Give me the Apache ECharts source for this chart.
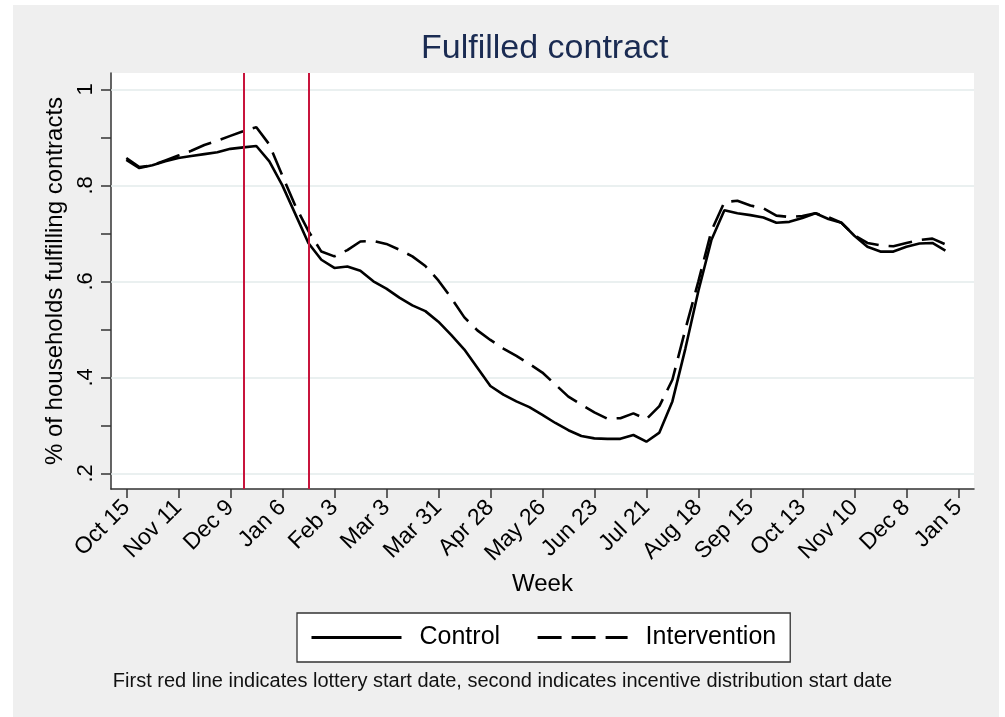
<!DOCTYPE html>
<html>
<head>
<meta charset="utf-8">
<script src="https://cdn.jsdelivr.net/npm/echarts@6/dist/echarts.min.js"></script>
<style>
  html, body { margin: 0; padding: 0; background: #fff; }
  #chart { width: 1005px; height: 717px; }
</style>
</head>
<body>
<div id="chart"></div>
<script>
// week labels every 4 weeks, starting at week 0
const weekLabels = ['Oct 15', 'Nov 11', 'Dec 9', 'Jan 6', 'Feb 3', 'Mar 3', 'Mar 31', 'Apr 28', 'May 26',
  'Jun 23', 'Jul 21', 'Aug 18', 'Sep 15', 'Oct 13', 'Nov 10', 'Dec 8', 'Jan 5'];
const labelWeeks = [0, 4, 8, 12, 16, 20, 24, 28, 32, 36, 40, 44, 48, 52, 56, 60, 64];

const control = [0.853, 0.836, 0.842, 0.850, 0.857, 0.861, 0.865, 0.869, 0.876, 0.879,
  0.882, 0.850, 0.800, 0.740, 0.680, 0.645, 0.628, 0.631, 0.622, 0.600,
  0.585, 0.566, 0.550, 0.538, 0.516, 0.488, 0.458, 0.420, 0.382, 0.364,
  0.350, 0.338, 0.322, 0.305, 0.290, 0.278, 0.273, 0.272, 0.272, 0.280,
  0.266, 0.285, 0.350, 0.460, 0.580, 0.686, 0.748, 0.742, 0.738, 0.733,
  0.722, 0.724, 0.732, 0.742, 0.730, 0.722, 0.695, 0.672, 0.662, 0.662,
  0.672, 0.679, 0.680, 0.664];

const intervention = [0.857, 0.838, 0.842, 0.852, 0.862, 0.872, 0.884, 0.893, 0.903, 0.913,
  0.921, 0.885, 0.820, 0.757, 0.705, 0.662, 0.652, 0.665, 0.683, 0.684,
  0.678, 0.666, 0.652, 0.632, 0.602, 0.565, 0.525, 0.498, 0.478, 0.460,
  0.445, 0.428, 0.410, 0.385, 0.360, 0.343, 0.327, 0.314, 0.315, 0.325,
  0.313, 0.340, 0.395, 0.500, 0.600, 0.705, 0.765, 0.768, 0.758, 0.752,
  0.737, 0.734, 0.736, 0.742, 0.734, 0.722, 0.696, 0.680, 0.675, 0.673,
  0.680, 0.686, 0.689, 0.677];

const yTickValues = [0.2, 0.3, 0.4, 0.5, 0.6, 0.7, 0.8, 0.9, 1];
const yLabelValues = [0.2, 0.4, 0.6, 0.8, 1];
// lottery start, incentive distribution start (week index)
const eventWeeks = [9, 14];

const fontFamily = 'Liberation Sans, Arial, sans-serif';
const chart = echarts.init(document.getElementById('chart'));

const option = {
  backgroundColor: '#fff',
  animation: false,
  textStyle: { fontFamily: fontFamily, color: '#000' },
  graphic: [
    {
      type: 'rect',
      z: -100,
      shape: { x: 13, y: 5, width: 986, height: 712 },
      style: { fill: '#efefef' }
    },
    {
      type: 'text',
      left: 'center',
      top: 671,
      style: {
        text: 'First red line indicates lottery start date, second indicates incentive distribution start date',
        fontSize: 20,
        fontFamily: fontFamily,
        fill: '#111'
      }
    }
  ],
  title: {
    text: 'Fulfilled contract',
    left: 416,
    top: 27,
    textStyle: { fontSize: 34, fontWeight: 'normal', color: '#1a2b52', fontFamily: fontFamily }
  },
  legend: {
    data: ['Control', 'Intervention'],
    left: 297,
    top: 613,
    padding: [12, 14, 12, 13],
    itemGap: 36,
    itemWidth: 90,
    itemHeight: 20,
    backgroundColor: '#fff',
    borderColor: '#333',
    borderWidth: 1.3,
    borderRadius: 0,
    itemStyle: { opacity: 0 },
    lineStyle: { width: 3 },
    textStyle: { fontSize: 25, color: '#000', padding: [0, 0, 0, 13] }
  },
  grid: {
    left: 111,
    right: 31,
    top: 73,
    bottom: 228,
    show: true,
    backgroundColor: '#fff',
    borderWidth: 0
  },
  xAxis: {
    type: 'value',
    min: -1.18,
    max: 65.2,
    name: 'Week',
    nameLocation: 'middle',
    nameGap: 83,
    nameTextStyle: { fontSize: 24, color: '#000' },
    axisLine: { show: true, onZero: false, lineStyle: { color: '#333', width: 1.5 } },
    axisTick: { show: true, length: 9, customValues: labelWeeks, lineStyle: { color: '#333', width: 1.5 } },
    axisLabel: {
      customValues: labelWeeks,
      rotate: 45,
      fontSize: 23,
      color: '#000',
      margin: 15,
      formatter: v => weekLabels[labelWeeks.indexOf(Math.round(v))] || ''
    },
    splitLine: { show: false }
  },
  yAxis: {
    type: 'value',
    min: 0.1675,
    max: 1.034,
    name: '% of households fulfilling contracts',
    nameLocation: 'middle',
    nameGap: 42,
    nameTextStyle: { fontSize: 24, color: '#000' },
    axisLine: { show: true, onZero: false, lineStyle: { color: '#333', width: 1.5 } },
    axisTick: { show: true, length: 10, customValues: yTickValues, lineStyle: { color: '#333', width: 1.5 } },
    axisLabel: {
      customValues: yLabelValues,
      rotate: 90,
      fontSize: 22,
      color: '#000',
      margin: 14,
      formatter: v => (v >= 0.999 ? '1' : String(+v.toFixed(1)).replace(/^0/, ''))
    },
    splitLine: { show: false }
  },
  series: [
    {
      name: 'grid',
      type: 'line',
      data: [],
      silent: true,
      markLine: {
        silent: true,
        z: 1,
        symbol: 'none',
        label: { show: false },
        lineStyle: { color: '#e3ebeb', width: 1.5, type: 'solid' },
        data: yLabelValues.map(v => ({ yAxis: v }))
      }
    },
    {
      name: 'Control',
      type: 'line',
      data: control.map((v, i) => [i, v]),
      symbol: 'none',
      color: '#000',
      lineStyle: { color: '#000', width: 2.6, type: 'solid' },
      z: 3
    },
    {
      name: 'Intervention',
      type: 'line',
      data: intervention.map((v, i) => [i, v]),
      symbol: 'none',
      color: '#000',
      lineStyle: { color: '#000', width: 2.6, type: [24, 10] },
      z: 3,
      markLine: {
        silent: true,
        symbol: 'none',
        label: { show: false },
        lineStyle: { color: '#c8143c', width: 2, type: 'solid' },
        data: eventWeeks.map(w => ({ xAxis: w }))
      }
    }
  ]
};

chart.setOption(option);
</script>
</body>
</html>
